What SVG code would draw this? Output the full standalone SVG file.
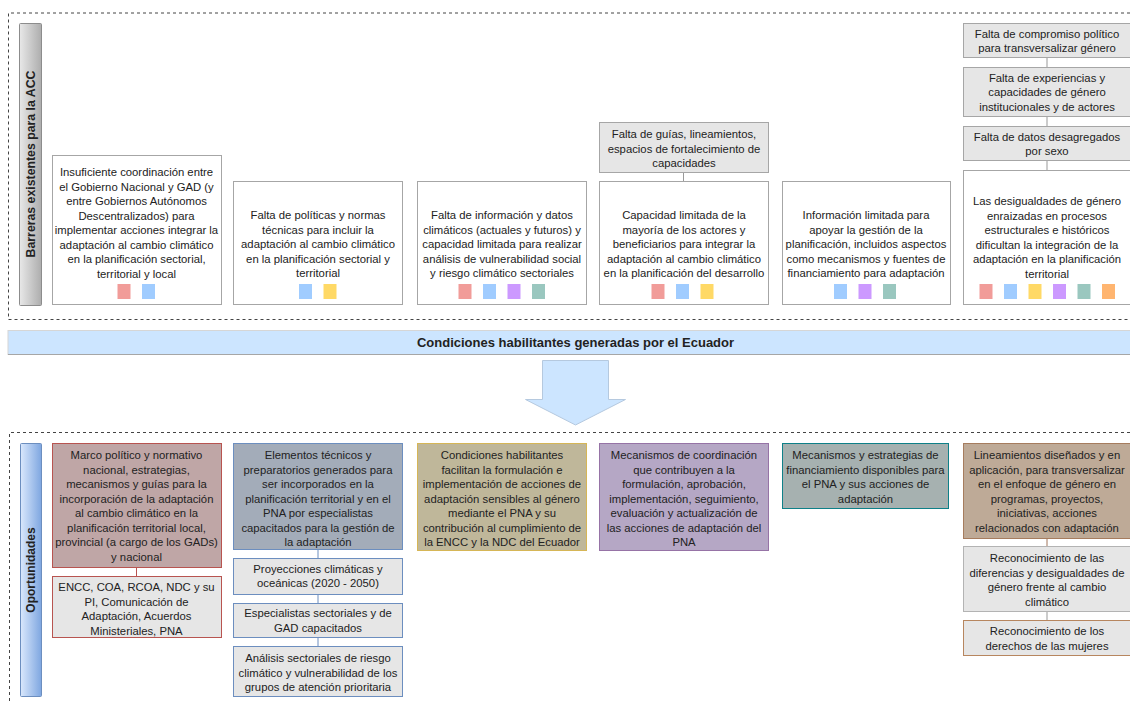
<svg xmlns="http://www.w3.org/2000/svg" width="1130" height="704" viewBox="0 0 1130 704">
<defs>
<linearGradient id="gGray" x1="0" y1="0" x2="1" y2="0"><stop offset="0" stop-color="#E8E8E8"/><stop offset="1" stop-color="#ADADAD"/></linearGradient>
<linearGradient id="gBlue" x1="0" y1="0" x2="1" y2="0"><stop offset="0" stop-color="#DAE8FC"/><stop offset="1" stop-color="#7EA6E0"/></linearGradient>
<style>
text{font-family:"Liberation Sans",Arial,sans-serif;fill:#222;}
.t{font-size:11.3px;text-anchor:middle;}
.b{font-size:12.3px;font-weight:bold;text-anchor:middle;}
.wb{fill:#FFFFFF;stroke:#A6A6A6;stroke-width:1;}
.gb{fill:#E6E6E6;stroke:#A6A6A6;stroke-width:1;}
.dash{fill:none;stroke:#444;stroke-width:1;stroke-dasharray:3 3;}
.con{stroke-width:1;fill:none;}
.r{fill:#F19C99}.bl{fill:#A0CCFF}.y{fill:#FFD966}.p{fill:#CC99FF}.tl{fill:#9AC7BF}.o{fill:#FFB570}
</style>
</defs>
<rect width="1130" height="704" fill="#FFFFFF"/>

<!-- sections -->
<path class="dash" d="M1136,13 H8.5 V319.5 H1136"/>
<path class="dash" d="M1136,432.5 H9.5 V710"/>

<g id="barreras-label">
<rect x="19.5" y="23.5" width="22" height="282" rx="1" fill="url(#gGray)" stroke="#8C8C8C"/>
<text class="b" transform="translate(35,164) rotate(-90)">Barreras existentes para la ACC</text>
</g>

<g id="oportunidades-label">
<rect x="20.5" y="443.5" width="21" height="253" rx="1" fill="url(#gBlue)" stroke="#6C8EBF"/>
<text class="b" style="font-size:12px" transform="translate(35,570) rotate(-90)">Oportunidades</text>
</g>

<g id="connectors">
<line class="con" stroke="#999" x1="683.5" y1="172" x2="683.5" y2="181"/>
<line class="con" stroke="#999" x1="1047" y1="57" x2="1047" y2="67"/>
<line class="con" stroke="#999" x1="1047" y1="116" x2="1047" y2="126"/>
<line class="con" stroke="#999" x1="1047" y1="160" x2="1047" y2="170"/>
<line class="con" stroke="#B85450" x1="136.5" y1="567" x2="136.5" y2="576"/>
<line class="con" stroke="#6C8EBF" x1="318" y1="549" x2="318" y2="558"/>
<line class="con" stroke="#6C8EBF" x1="318" y1="594" x2="318" y2="603"/>
<line class="con" stroke="#6C8EBF" x1="318" y1="637" x2="318" y2="646"/>
<line class="con" stroke="#A0745A" x1="1047" y1="538" x2="1047" y2="546"/>
<line class="con" stroke="#999" x1="1047" y1="611" x2="1047" y2="620"/>
</g>

<!-- top row barriers -->
<g id="barrera1">
<rect class="wb" x="52.5" y="155.5" width="169" height="149"/>
<text class="t" x="136.5" y="176">Insuficiente coordinación entre</text>
<text class="t" x="136.5" y="190.5">el Gobierno Nacional y GAD (y</text>
<text class="t" x="136.5" y="205">entre Gobiernos Autónomos</text>
<text class="t" x="136.5" y="219.5">Descentralizados) para</text>
<text class="t" x="136.5" y="234">implementar acciones integrar la</text>
<text class="t" x="136.5" y="248.5">adaptación al cambio climático</text>
<text class="t" x="136.5" y="263">en la planificación sectorial,</text>
<text class="t" x="136.5" y="277.5">territorial y local</text>
<rect class="r" x="117.5" y="284" width="13" height="15"/>
<rect class="bl" x="142" y="284" width="13" height="15"/>
</g>

<g id="barrera2">
<rect class="wb" x="233.5" y="181.5" width="169" height="123"/>
<text class="t" x="318" y="219">Falta de políticas y normas</text>
<text class="t" x="318" y="233.5">técnicas para incluir la</text>
<text class="t" x="318" y="248">adaptación al cambio climático</text>
<text class="t" x="318" y="262.5">en la planificación sectorial y</text>
<text class="t" x="318" y="277">territorial</text>
<rect class="bl" x="299" y="284" width="13" height="15"/>
<rect class="y" x="323.5" y="284" width="13" height="15"/>
</g>

<g id="barrera3">
<rect class="wb" x="417.5" y="181.5" width="169" height="123"/>
<text class="t" x="502" y="219">Falta de información y datos</text>
<text class="t" x="502" y="233.5">climáticos (actuales y futuros) y</text>
<text class="t" x="502" y="248">capacidad limitada para realizar</text>
<text class="t" x="502" y="262.5">análisis de vulnerabilidad social</text>
<text class="t" x="502" y="277">y riesgo climático sectoriales</text>
<rect class="r" x="458.5" y="284" width="13" height="15"/>
<rect class="bl" x="483" y="284" width="13" height="15"/>
<rect class="p" x="507.5" y="284" width="13" height="15"/>
<rect class="tl" x="532" y="284" width="13" height="15"/>
</g>

<g id="barrera4-sub">
<rect class="gb" x="599.5" y="122.5" width="169" height="50"/>
<text class="t" x="684" y="138">Falta de guías, lineamientos,</text>
<text class="t" x="684" y="152.5">espacios de fortalecimiento de</text>
<text class="t" x="684" y="167">capacidades</text>
</g>

<g id="barrera4">
<rect class="wb" x="599.5" y="181.5" width="169" height="123"/>
<text class="t" x="684" y="219">Capacidad limitada de la</text>
<text class="t" x="684" y="233.5">mayoría de los actores y</text>
<text class="t" x="684" y="248">beneficiarios para integrar la</text>
<text class="t" x="684" y="262.5">adaptación al cambio climático</text>
<text class="t" x="684" y="277">en la planificación del desarrollo</text>
<rect class="r" x="651.5" y="284" width="13" height="15"/>
<rect class="bl" x="676" y="284" width="13" height="15"/>
<rect class="y" x="700.5" y="284" width="13" height="15"/>
</g>

<g id="barrera5">
<rect class="wb" x="782.5" y="181.5" width="168" height="123"/>
<text class="t" x="866" y="219">Información limitada para</text>
<text class="t" x="866" y="233.5">apoyar la gestión de la</text>
<text class="t" x="866" y="248">planificación, incluidos aspectos</text>
<text class="t" x="866" y="262.5">como mecanismos y fuentes de</text>
<text class="t" x="866" y="277">financiamiento para adaptación</text>
<rect class="bl" x="834" y="284" width="13" height="15"/>
<rect class="p" x="858.5" y="284" width="13" height="15"/>
<rect class="tl" x="883" y="284" width="13" height="15"/>
</g>

<g id="barrera6-sub1">
<rect class="gb" x="963.5" y="23.5" width="168" height="34"/>
<text class="t" x="1047" y="37.5">Falta de compromiso político</text>
<text class="t" x="1047" y="52">para transversalizar género</text>
</g>
<g id="barrera6-sub2">
<rect class="gb" x="963.5" y="67.5" width="168" height="49"/>
<text class="t" x="1047" y="81.5">Falta de experiencias y</text>
<text class="t" x="1047" y="96">capacidades de género</text>
<text class="t" x="1047" y="110.5">institucionales y de actores</text>
</g>
<g id="barrera6-sub3">
<rect class="gb" x="963.5" y="126.5" width="168" height="34"/>
<text class="t" x="1047" y="140.5">Falta de datos desagregados</text>
<text class="t" x="1047" y="155">por sexo</text>
</g>
<g id="barrera6">
<rect class="wb" x="963.5" y="170.5" width="168" height="134"/>
<text class="t" x="1047" y="205">Las desigualdades de género</text>
<text class="t" x="1047" y="219.5">enraizadas en procesos</text>
<text class="t" x="1047" y="234">estructurales e históricos</text>
<text class="t" x="1047" y="248.5">dificultan la integración de la</text>
<text class="t" x="1047" y="263">adaptación en la planificación</text>
<text class="t" x="1047" y="277.5">territorial</text>
<rect class="r" x="979.5" y="284" width="13" height="15"/>
<rect class="bl" x="1004" y="284" width="13" height="15"/>
<rect class="y" x="1028.5" y="284" width="13" height="15"/>
<rect class="p" x="1053" y="284" width="13" height="15"/>
<rect class="tl" x="1077.5" y="284" width="13" height="15"/>
<rect class="o" x="1102" y="284" width="13" height="15"/>
</g>

<!-- middle band -->
<g id="condiciones">
<rect x="8" y="330.5" width="1130" height="24" fill="#CCE5FF" stroke="#D6D6D6"/>
<line x1="8" y1="354.5" x2="1138" y2="354.5" stroke="#A6A6A6"/>
<text class="b" style="font-size:13px" x="575.5" y="347">Condiciones habilitantes generadas por el Ecuador</text>
</g>
<g id="flecha">
<path d="M542.5,360.5 H608.5 V399.5 H625.5 L575.5,425 L525.5,399.5 H542.5 Z" fill="#CCE5FF" stroke="#B5C9DF"/>
</g>

<!-- bottom row opportunities -->
<g id="op1">
<rect x="52.5" y="443.5" width="169" height="124" fill="#BFA6A6" stroke="#B85450"/>
<text class="t" x="136.5" y="459">Marco político y normativo</text>
<text class="t" x="136.5" y="473.5">nacional, estrategias,</text>
<text class="t" x="136.5" y="488">mecanismos y guías para la</text>
<text class="t" x="136.5" y="502.5">incorporación de la adaptación</text>
<text class="t" x="136.5" y="517">al cambio climático en la</text>
<text class="t" x="136.5" y="531.5">planificación territorial local,</text>
<text class="t" x="136.5" y="546">provincial (a cargo de los GADs)</text>
<text class="t" x="136.5" y="560.5">y nacional</text>
</g>
<g id="op1-sub">
<rect x="52.5" y="576.5" width="169" height="61" fill="#E6E6E6" stroke="#B85450"/>
<text class="t" x="136.5" y="591">ENCC, COA, RCOA, NDC y su</text>
<text class="t" x="136.5" y="605.5">PI, Comunicación de</text>
<text class="t" x="136.5" y="620">Adaptación, Acuerdos</text>
<text class="t" x="136.5" y="634.5">Ministeriales, PNA</text>
</g>

<g id="op2">
<rect x="233.5" y="443.5" width="169" height="106" fill="#A3ACB9" stroke="#6C8EBF"/>
<text class="t" x="318" y="459">Elementos técnicos y</text>
<text class="t" x="318" y="473.5">preparatorios generados para</text>
<text class="t" x="318" y="488">ser incorporados en la</text>
<text class="t" x="318" y="502.5">planificación territorial y en el</text>
<text class="t" x="318" y="517">PNA por especialistas</text>
<text class="t" x="318" y="531.5">capacitados para la gestión de</text>
<text class="t" x="318" y="546">la adaptación</text>
</g>
<g id="op2-sub1">
<rect x="233.5" y="558.5" width="169" height="36" fill="#E6E6E6" stroke="#6C8EBF"/>
<text class="t" x="318" y="572.5">Proyecciones climáticas y</text>
<text class="t" x="318" y="587">oceánicas (2020 - 2050)</text>
</g>
<g id="op2-sub2">
<rect x="233.5" y="603.5" width="169" height="34" fill="#E6E6E6" stroke="#6C8EBF"/>
<text class="t" x="318" y="617">Especialistas sectoriales y de</text>
<text class="t" x="318" y="631.5">GAD capacitados</text>
</g>
<g id="op2-sub3">
<rect x="233.5" y="646.5" width="169" height="50" fill="#E6E6E6" stroke="#6C8EBF"/>
<text class="t" x="318" y="662">Análisis sectoriales de riesgo</text>
<text class="t" x="318" y="676.5">climático y vulnerabilidad de los</text>
<text class="t" x="318" y="691">grupos de atención prioritaria</text>
</g>

<g id="op3">
<rect x="417.5" y="443.5" width="169" height="107" fill="#BFB79A" stroke="#D6B656"/>
<text class="t" x="502" y="459">Condiciones habilitantes</text>
<text class="t" x="502" y="473.5">facilitan la formulación e</text>
<text class="t" x="502" y="488">implementación de acciones de</text>
<text class="t" x="502" y="502.5">adaptación sensibles al género</text>
<text class="t" x="502" y="517">mediante el PNA y su</text>
<text class="t" x="502" y="531.5">contribución al cumplimiento de</text>
<text class="t" x="502" y="546">la ENCC y la NDC del Ecuador</text>
</g>

<g id="op4">
<rect x="599.5" y="443.5" width="169" height="107" fill="#B5A7C5" stroke="#9673A6"/>
<text class="t" x="684" y="459">Mecanismos de coordinación</text>
<text class="t" x="684" y="473.5">que contribuyen a la</text>
<text class="t" x="684" y="488">formulación, aprobación,</text>
<text class="t" x="684" y="502.5">implementación, seguimiento,</text>
<text class="t" x="684" y="517">evaluación y actualización de</text>
<text class="t" x="684" y="531.5">las acciones de adaptación del</text>
<text class="t" x="684" y="546">PNA</text>
</g>

<g id="op5">
<rect x="782.5" y="443.5" width="166" height="65" fill="#A6B1B0" stroke="#0E8088"/>
<text class="t" x="865.5" y="459">Mecanismos y estrategias de</text>
<text class="t" x="865.5" y="473.5">financiamiento disponibles para</text>
<text class="t" x="865.5" y="488">el PNA y sus acciones de</text>
<text class="t" x="865.5" y="502.5">adaptación</text>
</g>

<g id="op6">
<rect x="963.5" y="443.5" width="168" height="95" fill="#BEAA97" stroke="#A67C5E"/>
<text class="t" x="1047" y="459">Lineamientos diseñados y en</text>
<text class="t" x="1047" y="473.5">aplicación, para transversalizar</text>
<text class="t" x="1047" y="488">en el enfoque de género en</text>
<text class="t" x="1047" y="502.5">programas, proyectos,</text>
<text class="t" x="1047" y="517">iniciativas, acciones</text>
<text class="t" x="1047" y="531.5">relacionados con adaptación</text>
</g>
<g id="op6-sub1">
<rect x="963.5" y="546.5" width="168" height="65" fill="#E6E6E6" stroke="#B3B3B3"/>
<text class="t" x="1047" y="562">Reconocimiento de las</text>
<text class="t" x="1047" y="576.5">diferencias y desigualdades de</text>
<text class="t" x="1047" y="591">género frente al cambio</text>
<text class="t" x="1047" y="605.5">climático</text>
</g>
<g id="op6-sub2">
<rect x="963.5" y="620.5" width="168" height="35" fill="#E6E6E6" stroke="#B7865F"/>
<text class="t" x="1047" y="635">Reconocimiento de los</text>
<text class="t" x="1047" y="649.5">derechos de las mujeres</text>
</g>
</svg>
